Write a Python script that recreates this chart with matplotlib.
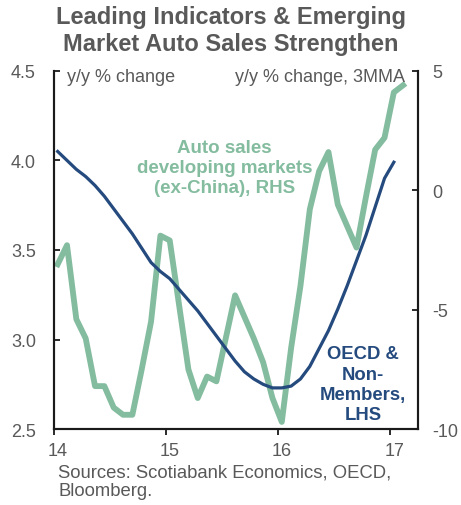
import numpy as np
import matplotlib.pyplot as plt
from matplotlib.transforms import ScaledTranslation

plt.rcParams['font.family'] = ['Liberation Sans', 'DejaVu Sans']
plt.rcParams['axes.unicode_minus'] = False

# OECD & non-member leading indicator, monthly from Jan 2014 (LHS)
cli = [4.05, 4.00, 3.95, 3.91, 3.86, 3.80, 3.73, 3.66, 3.59, 3.51,
       3.43, 3.38, 3.34, 3.28, 3.22, 3.16, 3.09, 3.02, 2.95, 2.88,
       2.82, 2.78, 2.75, 2.73, 2.73, 2.74, 2.78, 2.85, 2.95, 3.05,
       3.17, 3.30, 3.44, 3.58, 3.74, 3.90, 3.99]

# auto sales, developing markets ex-China, y/y % 3mma (RHS)
autos = [-3.1, -2.3, -5.4, -6.2, -8.2, -8.2, -9.1, -9.4, -9.4, -7.5,
         -5.5, -1.9, -2.1, -4.8, -7.5, -8.7, -7.8, -8.0, -6.2, -4.4,
         -5.3, -6.2, -7.2, -8.7, -9.7, -6.6, -4.0, -0.8, 0.8, 1.6,
         -0.6, -1.5, -2.4, -0.3, 1.7, 2.2, 4.1, 4.4]

# points sit a little into each month
x_cli = 14 + (np.arange(len(cli)) + 0.4) / 12
x_autos = 14 + (np.arange(len(autos)) + 0.4) / 12

left_ticks = [2.5, 3.0, 3.5, 4.0, 4.5]
right_ticks = [-10, -5, 0, 5]
year_ticks = [14, 15, 16, 17]

GREEN = '#84BC9F'
NAVY = '#244A7E'
GREY = '#595959'
AXIS = '#1a1a1a'

fig = plt.figure(figsize=(4.61, 5.06), dpi=100)
ax = fig.add_axes([0.117, 0.150, 0.790, 0.708])
ax2 = ax.twinx()

ax.plot(x_cli, cli, color=NAVY, lw=2.3, zorder=3)
ax2.plot(x_autos, autos, color=GREEN, lw=4.2, zorder=2)
ax.set_zorder(ax2.get_zorder() + 1)
ax.patch.set_visible(False)

ax.set_xlim(14, 17.25)
ax.set_ylim(2.5, 4.5)
ax2.set_ylim(-10, 5)

ax.set_yticks(left_ticks)
ax.set_yticklabels([f'{v:.1f}' for v in left_ticks])
ax2.set_yticks(right_ticks)
ax.set_xticks(year_ticks)

for a in (ax, ax2):
    a.spines['top'].set_visible(False)
    for s in ('left', 'right', 'bottom'):
        a.spines[s].set_color(AXIS)
        a.spines[s].set_linewidth(1.5)

ax.tick_params(axis='y', direction='in', length=4, width=1.3, color=AXIS,
               labelsize=13, labelcolor=GREY, pad=13)
ax2.tick_params(axis='y', direction='in', length=4, width=1.3, color=AXIS,
                labelsize=13, labelcolor=GREY, pad=10)
ax.tick_params(axis='x', direction='out', length=4, width=1.3, color=AXIS,
               labelsize=13, labelcolor=GREY, pad=5)
shift = ScaledTranslation(4 / 100, 0, fig.dpi_scale_trans)
for lbl in ax.get_xticklabels():
    lbl.set_transform(lbl.get_transform() + shift)

ax.text(0.035, 0.983, 'y/y % change', transform=ax.transAxes,
        ha='left', va='center', fontsize=13, color=GREY)
ax.text(0.965, 0.983, 'y/y % change, 3MMA', transform=ax.transAxes,
        ha='right', va='center', fontsize=13, color=GREY)

ax.text(15.52, 3.96, 'Auto sales\ndeveloping markets\n(ex-China), RHS',
        ha='center', va='center', fontsize=13.5, fontweight='bold',
        color=GREEN, linespacing=1.2)
ax.text(16.76, 2.75, 'OECD &\nNon-\nMembers,\nLHS',
        ha='center', va='center', fontsize=13.3, fontweight='bold',
        color=NAVY, linespacing=1.25)

fig.text(0.5, 0.938, 'Leading Indicators & Emerging\nMarket Auto Sales Strengthen',
         ha='center', va='center', fontsize=17, fontweight='bold',
         color=GREY, linespacing=1.22)
fig.text(0.126, 0.047, 'Sources: Scotiabank Economics, OECD,\nBloomberg.',
         ha='left', va='center', fontsize=13.3, color=GREY, linespacing=1.05)

fig.savefig('out.png', dpi=100)
